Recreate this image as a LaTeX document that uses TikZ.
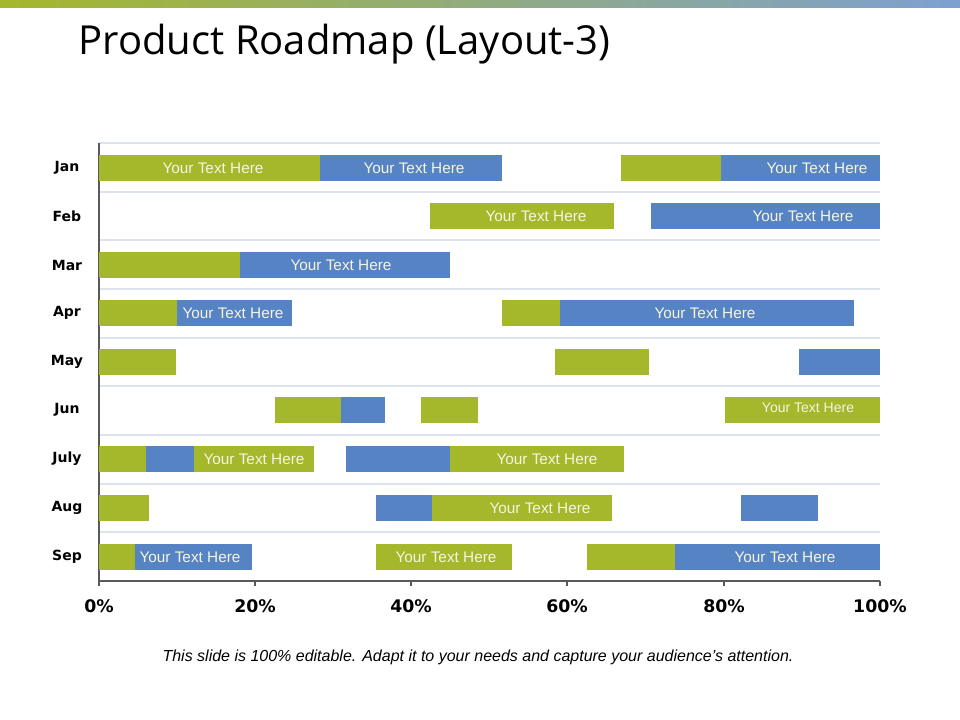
\documentclass[tikz,border=0pt]{standalone}
\usepackage{fontspec}
\setmainfont{Liberation Sans}
\newfontfamily\titlefont{Open Sans}
\newfontfamily\dvs{DejaVu Sans}
\begin{document}
\begin{tikzpicture}[x=0.75pt,y=-0.75pt,
  gbar/.style={fill={rgb,255:red,165;green,183;blue,43}},
  bbar/.style={fill={rgb,255:red,86;green,131;blue,195}},
  btxt/.style={text={rgb,255:red,245;green,245;blue,225},font=\fontsize{11.5pt}{13pt}\selectfont},
  mlab/.style={font=\dvs\bfseries\fontsize{10.5pt}{12pt}\selectfont},
  grid/.style={draw={rgb,255:red,220;green,226;blue,238},line width=0.8pt}]
\useasboundingbox (0,0) rectangle (960,720);
\shade[left color={rgb,255:red,165;green,183;blue,43},right color={rgb,255:red,125;green,160;blue,210}] (0,0) rectangle (960,8);
\node[anchor=west,font=\titlefont\fontsize{30pt}{34pt}\selectfont] (title) at (74,44) {Product Roadmap (Layout-3)};
% grid
\foreach \y in {143,192,240,289,338,386,435,484,532} \draw[grid] (99,\y) -- (880,\y);
\draw[line width=0.8pt,gray!70!black] (99,143) -- (99,581) -- (880,581);
\foreach \x in {99,255,411,567,724,880} \draw[line width=0.8pt,gray!70!black] (\x,581) -- (\x,586);
\foreach \x/\t in {99/0\%,255/20\%,411/40\%,567/60\%,724/80\%,880/100\%}
  \node[font=\dvs\bfseries\fontsize{13pt}{15pt}\selectfont] (ax\x) at (\x,606) {\t};
% months
\foreach \y/\m [count=\i] in {168/Jan,216/Feb,265/Mar,313/Apr,362/May,410/Jun,459/July,508/Aug,557/Sep}
  \node[mlab] (m\i) at (67,\y) {\m};
% bars: style, x1, x2, y
\foreach \s/\a/\b/\y in {
 gbar/99/320/168, bbar/320/502/168, gbar/621/721/168, bbar/721/880/168,
 gbar/430/614/216, bbar/651/880/216,
 gbar/99/240/265, bbar/240/450/265,
 gbar/99/177/313, bbar/177/292/313, gbar/502/560/313, bbar/560/854/313,
 gbar/99/176/362, gbar/555/649/362, bbar/799/880/362,
 gbar/275/341/410, bbar/341/385/410, gbar/421/478/410, gbar/725/880/410,
 gbar/99/146/459, bbar/146/194/459, gbar/194/314/459, bbar/346/450/459, gbar/450/624/459,
 gbar/99/149/508, bbar/376/432/508, gbar/432/612/508, bbar/741/818/508,
 gbar/99/135/557, bbar/135/252/557, gbar/376/512/557, gbar/587/675/557, bbar/675/880/557}
  \fill[\s] (\a,\y-13) rectangle (\b,\y+13);
\foreach \x/\y in {213/168,414/168,817/168,536/216,803/216,341/265,233/313,705/313,254/459,547/459,540/508,190/557,446/557,785/557}
  \node[btxt] (t\x\y) at (\x,\y) {Your Text Here};
\node[btxt,font=\fontsize{10.5pt}{12pt}\selectfont] (tjun) at (808,408) {Your Text Here};
\node[font=\itshape\fontsize{12pt}{14pt}\selectfont] (foot) at (478,657) {This slide is 100\% editable. Adapt it to your needs and capture your audience's attention.};
\end{tikzpicture}
\end{document}
